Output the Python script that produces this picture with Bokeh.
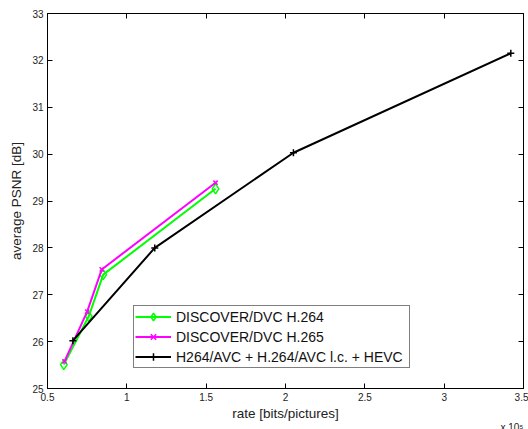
from bokeh.plotting import figure
from bokeh.models import LinearAxis, FixedTicker, Range1d, Legend, LegendItem, Title, CustomJSTickFormatter
from bokeh.embed import file_html
from bokeh.resources import INLINE

# rate in units of 1e5 bits/picture
h264_rate = [0.603, 0.760, 0.851, 1.559]
h264_psnr = [25.51, 26.54, 27.43, 29.26]
h265_rate = [0.607, 0.750, 0.842, 1.559]
h265_psnr = [25.58, 26.64, 27.54, 29.39]
ref_rate = [0.660, 1.176, 2.050, 3.420]
ref_psnr = [26.02, 28.00, 30.03, 32.15]

x_ticks = [0.5, 1.0, 1.5, 2.0, 2.5, 3.0, 3.5]
y_ticks = [25, 26, 27, 28, 29, 30, 31, 32, 33]
labels = ["DISCOVER/DVC H.264", "DISCOVER/DVC H.265", "H264/AVC + H.264/AVC l.c. + HEVC"]

FONT = "Liberation Sans"

p = figure(width=528, height=429, output_backend="svg", toolbar_location=None,
           x_range=Range1d(0.5, 3.5), y_range=Range1d(25, 33),
           min_border_left=47, min_border_right=5, min_border_top=13, min_border_bottom=41,
           frame_width=476, frame_height=375)
p.xgrid.visible = False
p.ygrid.visible = False
p.outline_line_color = "black"
p.outline_line_width = 1
p.background_fill_color = "white"
p.border_fill_color = "white"

def style_axis(ax, show_labels=True):
    ax.axis_line_color = "black"
    ax.axis_line_width = 1
    ax.major_tick_in = 5
    ax.major_tick_out = 0
    ax.minor_tick_line_color = None
    ax.major_tick_line_color = "black"
    ax.major_label_text_font = FONT
    ax.major_label_text_font_size = "10px"
    ax.major_label_text_color = "#222222"
    ax.major_label_standoff = 4 if show_labels else 0
    ax.axis_label_text_font = FONT
    ax.axis_label_text_font_size = "13.5px"
    ax.axis_label_text_font_style = "normal"
    ax.axis_label_text_color = "#222222"

p.xaxis.ticker = FixedTicker(ticks=x_ticks)
p.yaxis.ticker = FixedTicker(ticks=y_ticks)
p.xaxis.major_label_overrides = {0.5: "0.5", 1.0: "1", 1.5: "1.5", 2.0: "2", 2.5: "2.5", 3.0: "3", 3.5: "3.5"}
p.xaxis.axis_label = "rate [bits/pictures]"
p.yaxis.axis_label = "average PSNR [dB]"
style_axis(p.xaxis[0])
style_axis(p.yaxis[0])
p.xaxis.axis_label_standoff = 2
p.yaxis.axis_label_standoff = 5

blank = CustomJSTickFormatter(code="return '';")
top = LinearAxis(ticker=FixedTicker(ticks=x_ticks), formatter=blank)
style_axis(top, False)
p.add_layout(top, "above")
right = LinearAxis(ticker=FixedTicker(ticks=y_ticks), formatter=blank)
style_axis(right, False)
p.add_layout(right, "right")

g_line = p.line(h264_rate, h264_psnr, line_color="#00ff00", line_width=2)
g_mark = p.scatter(h264_rate, h264_psnr, marker="diamond", size=10, line_color="#00ff00",
                   line_width=1.5, fill_alpha=0)
m_line = p.line(h265_rate, h265_psnr, line_color="#ff00ff", line_width=2)
m_mark = p.scatter(h265_rate, h265_psnr, marker="x", size=6, line_color="#ff00ff", line_width=1.5)
k_line = p.line(ref_rate, ref_psnr, line_color="black", line_width=2)
k_mark = p.scatter(ref_rate, ref_psnr, marker="cross", size=7, line_color="black", line_width=1.5)

legend = Legend(items=[
    LegendItem(label=labels[0], renderers=[g_line, g_mark]),
    LegendItem(label=labels[1], renderers=[m_line, m_mark]),
    LegendItem(label=labels[2], renderers=[k_line, k_mark]),
], location=(86, 20))
legend.label_text_font = FONT
legend.label_text_font_size = "14px"
legend.label_text_color = "#111111"
legend.padding = 1
legend.spacing = 1
legend.margin = 0
legend.label_height = 19
legend.glyph_height = 19
legend.glyph_width = 36
legend.label_standoff = 5
legend.label_width = 232
legend.border_line_color = "black"
legend.border_line_width = 1.5
legend.background_fill_alpha = 1
p.add_layout(legend, "center")

# exponent note for the x axis, pulled up beside the axis label
exp_title = Title(text="x 10\u2075", align="right", text_font=FONT, text_font_size="10px",
                  text_font_style="normal", text_color="#222222", standoff=-8, offset=0)
p.add_layout(exp_title, "below")

open("out.html", "w").write(file_html(p, INLINE))
